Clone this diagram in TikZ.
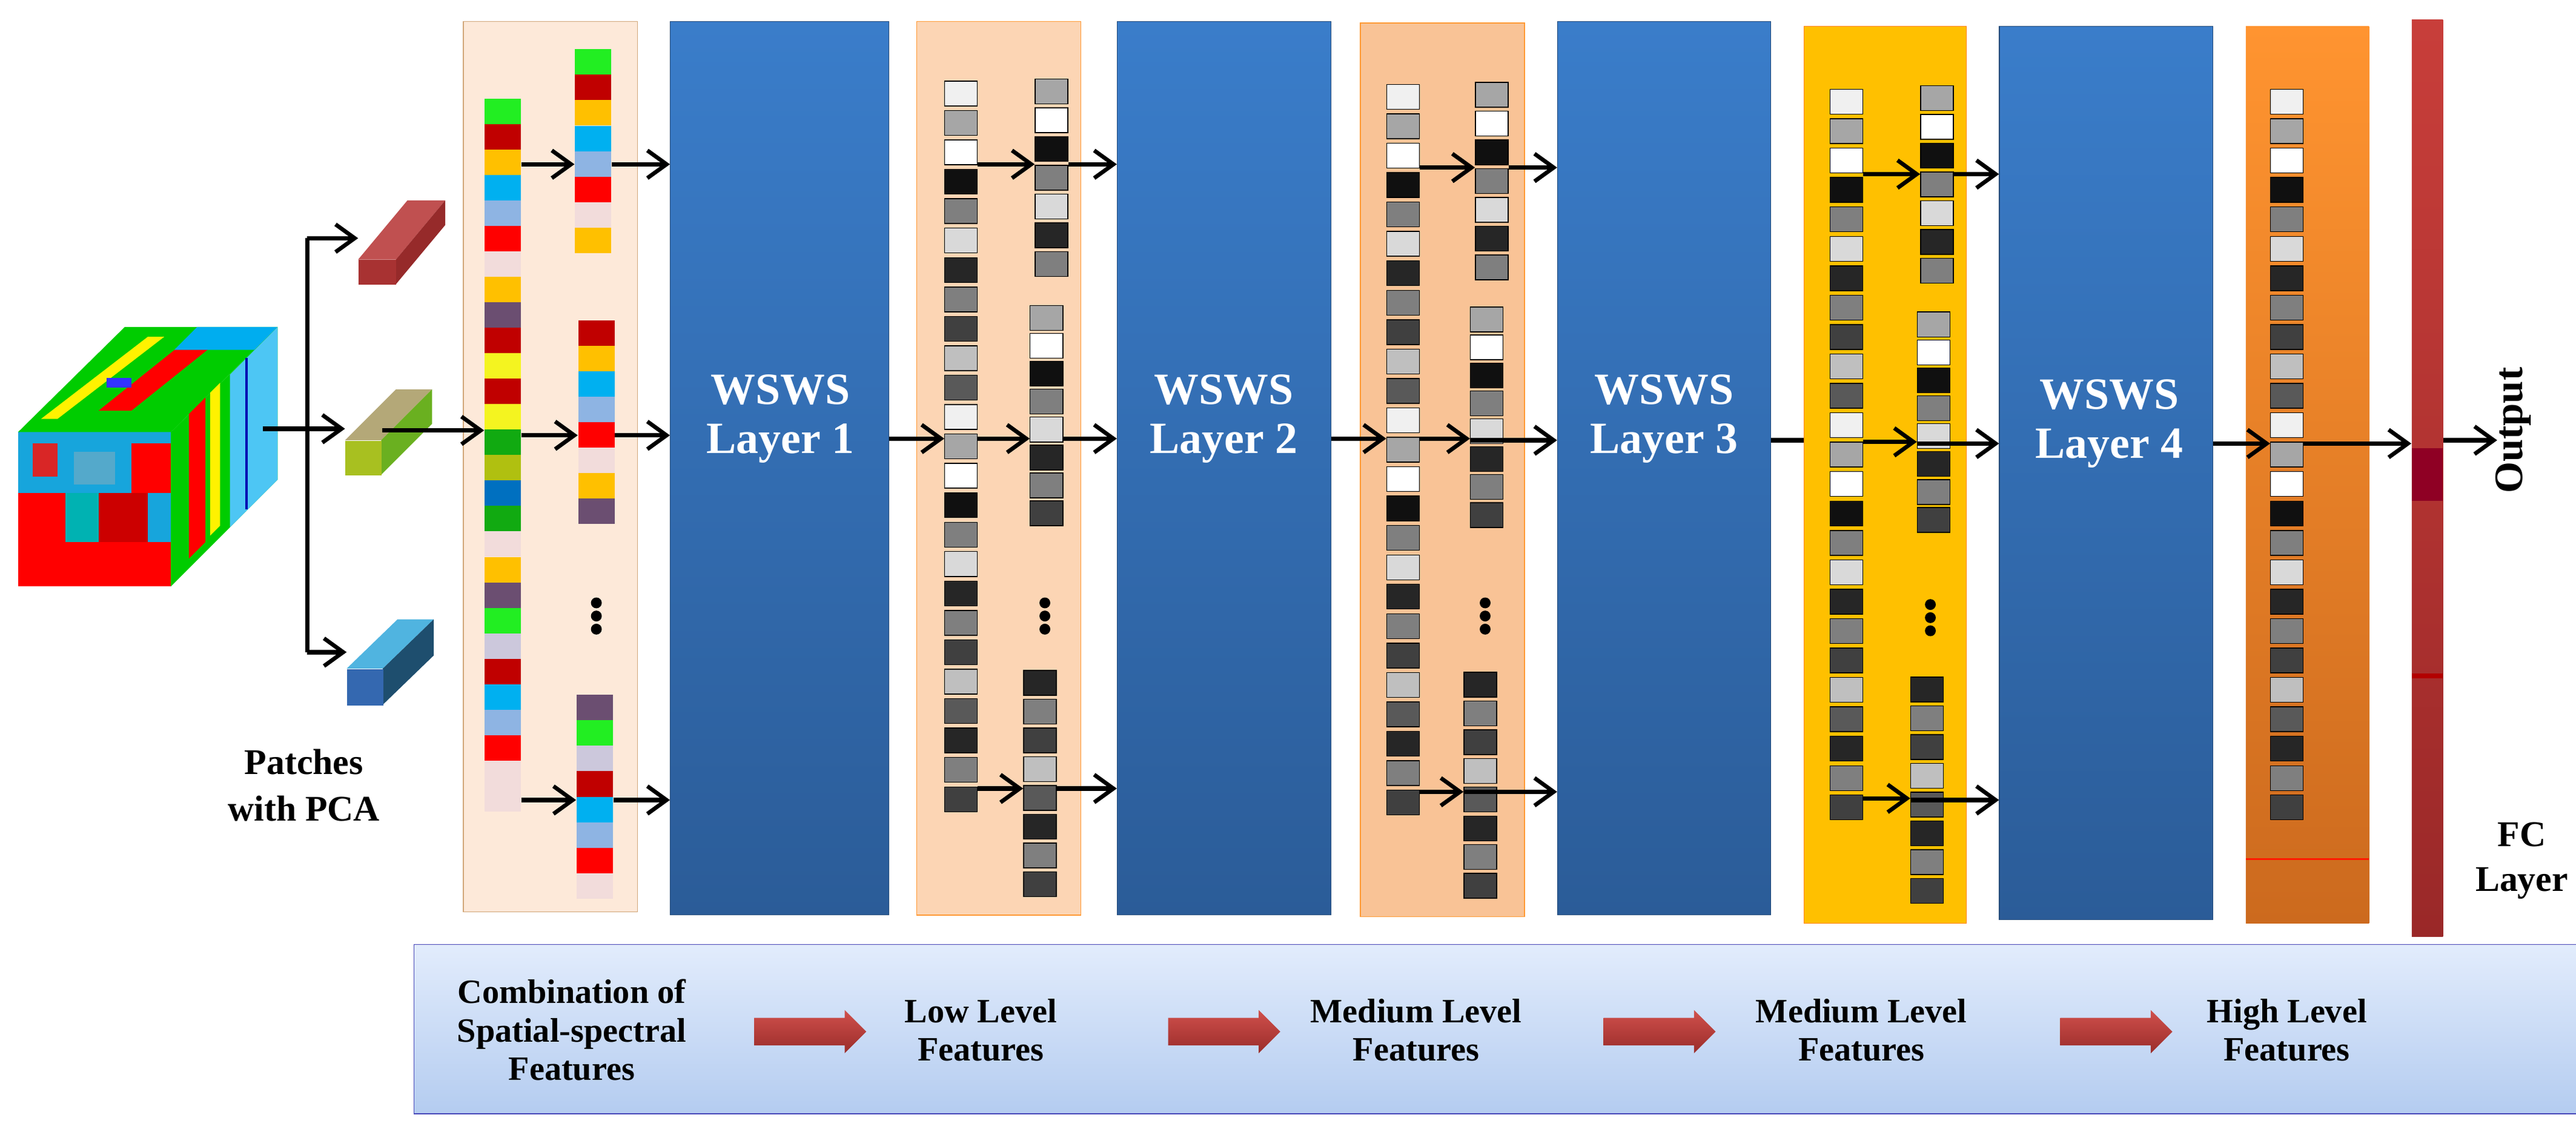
\documentclass[tikz,border=0pt]{standalone}
\usepackage{fontspec}
\setmainfont{Liberation Serif}
\usetikzlibrary{arrows.meta,shapes.arrows,fit}
\definecolor{ga}{HTML}{F0F0F0}\definecolor{gb}{HTML}{A6A6A6}\definecolor{gc}{HTML}{FFFFFF}
\definecolor{gd}{HTML}{101010}\definecolor{ge}{HTML}{7F7F7F}\definecolor{gf}{HTML}{D9D9D9}
\definecolor{gg}{HTML}{262626}\definecolor{gh}{HTML}{404040}\definecolor{gi}{HTML}{BFBFBF}
\definecolor{gj}{HTML}{595959}
\definecolor{cg}{HTML}{22EE22}\definecolor{cr}{HTML}{C00000}\definecolor{co}{HTML}{FFC000}
\definecolor{cc}{HTML}{00B0F0}\definecolor{cl}{HTML}{8EB4E3}\definecolor{cR}{HTML}{FF0000}
\definecolor{cp}{HTML}{F2DCDB}\definecolor{cv}{HTML}{6B4E71}\definecolor{cy}{HTML}{F4F420}
\definecolor{cG}{HTML}{11AA11}\definecolor{cO}{HTML}{B0C010}\definecolor{cb}{HTML}{0070C0}
\definecolor{cw}{HTML}{CCC8DC}
\definecolor{lt}{HTML}{3A7DCA}\definecolor{lb}{HTML}{2B5C98}
\definecolor{p1}{HTML}{FDE9D9}\definecolor{p2}{HTML}{FCD5B4}\definecolor{p3}{HTML}{F9C396}
\definecolor{p5t}{HTML}{FF9430}\definecolor{p5b}{HTML}{CC6A1E}
\definecolor{fct}{HTML}{C83E3A}\definecolor{fcb}{HTML}{9A2828}
\definecolor{bxt}{HTML}{E2ECFC}\definecolor{bxb}{HTML}{B4CCF0}
\definecolor{rat}{HTML}{D0504C}\definecolor{rab}{HTML}{9A2C2A}
\definecolor{prf}{HTML}{A83232}\definecolor{prt}{HTML}{C05050}\definecolor{prs}{HTML}{962A2A}
\definecolor{pgf}{HTML}{A8C020}\definecolor{pgt}{HTML}{B4A878}\definecolor{pgs}{HTML}{6AB020}
\definecolor{pbf}{HTML}{3468B0}\definecolor{pbt}{HTML}{50B4E0}\definecolor{pbs}{HTML}{1E4E6E}
\tikzset{
 x=0.02712cm,y=-0.02712cm,
 cell/.style={draw=black,line width=0.4pt,minimum width=0.54cm,minimum height=0.41cm,inner sep=0},
 ccell/.style={minimum width=0.6cm,minimum height=0.42cm,inner sep=0},
 arr/.style={line width=2.1pt,-{Straight Barb[length=9pt,width=13pt,line width=1.9pt]}},
 ln/.style={line width=2.1pt},
 layer/.style={inner sep=0,draw=lb!80!black,line width=0.3pt,top color=lt,bottom color=lb},
 ltext/.style={text=white,font=\bfseries\fontsize{21}{23}\selectfont,align=center},
 btext/.style={font=\bfseries\fontsize{16}{18}\selectfont,align=center},
 redarr/.style={single arrow,single arrow head extend=0.13cm,minimum height=1.85cm,inner sep=0.22cm,top color=rat,bottom color=rab,draw=none},
}
\newcommand\gcol[5]{\foreach \c [count=\i] in #5{\node[cell,fill=\c] (#1\i) at (#2,{#3+(\i-0.5)*#4}) {};}}
\newcommand\ccol[5]{\foreach \c [count=\i] in {#5}{\node[ccell,fill=\c] (#1\i) at (#2,{#3+(\i-0.5)*#4}) {};}}
\newcommand\vdotsat[2]{\foreach \d in {-8,0,8}{\fill (#1,#2+\d) circle (3.3);}}
\begin{document}
\begin{tikzpicture}
\useasboundingbox (0,0) rectangle (1568,692.4);
% cube
\begin{scope}
\fill[cyan!80!teal] (11,263) rectangle (104,357);
\fill[red] (11,300) rectangle (40,357);\fill[red] (40,330) rectangle (104,357);
\fill[red!80!black] (60,300) rectangle (90,330);\fill[red] (80,270) rectangle (104,300);
\fill[teal!60!cyan] (40,300) rectangle (60,330);\fill[red!70!gray] (20,270) rectangle (35,290);
\fill[cyan!60!gray] (45,275) rectangle (70,295);
\fill[green!80!black] (11,263) -- (76,199) -- (169,199) -- (104,263) -- cycle;
\fill[yellow] (25,255) -- (90,205) -- (100,205) -- (35,255) -- cycle;
\fill[red] (60,250) -- (110,210) -- (130,210) -- (80,250) -- cycle;
\fill[cyan] (120,199) -- (169,199) -- (155,213) -- (106,213) -- cycle;
\fill[blue!80] (65,230) rectangle (80,236);
\fill[green!80!black] (104,263) -- (169,199) -- (169,292) -- (104,357) -- cycle;
\fill[cyan!70] (140,228) -- (169,199) -- (169,292) -- (140,321) -- cycle;
\fill[red] (115,252) -- (125,242) -- (125,330) -- (115,340) -- cycle;
\fill[yellow] (128,239) -- (134,233) -- (134,320) -- (128,326) -- cycle;
\draw[blue!70!black,line width=1pt] (150,218) -- (150,310);
\end{scope}
\coordinate (cubeR) at (160,261);
% patches
\fill[prt] (218,158) -- (248,122) -- (271,122) -- (241,158) -- cycle;
\fill[prs] (241,158) -- (271,122) -- (271,137) -- (241,173) -- cycle;
\node[fill=prf,inner sep=0,minimum width=0.62cm,minimum height=0.41cm,anchor=north west] (pr) at (218,158) {};
\fill[pgt] (210,268) -- (241,237) -- (263,237) -- (232,268) -- cycle;
\fill[pgs] (232,268) -- (263,237) -- (263,258) -- (232,289) -- cycle;
\node[fill=pgf,inner sep=0,minimum width=0.6cm,minimum height=0.57cm,anchor=north west] (pg) at (210,268) {};
\fill[pbt] (211,407) -- (242,377) -- (264,377) -- (233,407) -- cycle;
\fill[pbs] (233,407) -- (264,377) -- (264,399) -- (233,429) -- cycle;
\node[fill=pbf,inner sep=0,minimum width=0.6cm,minimum height=0.6cm,anchor=north west] (pb) at (211,407) {};
\coordinate (brT) at (187,145);\coordinate (brB) at (187,397);\coordinate (brM) at (187,261);
\draw[ln] (brT) -- (brB);
\draw[ln] (cubeR) -- (brM);
\draw[arr] (brT) -- (pr.west |- brT);
\draw[arr] (brM) -- (pg.west |- brM);
\draw[arr] (brB) -- (pb.west |- brB);
\node[btext,font=\bfseries\fontsize{17}{22}\selectfont] (ptxt) at (185,478) {Patches\\with PCA};
% panels
\node[fit={(282,13)(388,555)},inner sep=0,fill=p1,draw=brown!70] (P1) {};
\node[fit={(558,13)(658,557)},inner sep=0,fill=p2,draw=orange!80] (P2) {};
\node[fit={(828,14)(928,558)},inner sep=0,fill=p3,draw=orange!80] (P3) {};
\node[fit={(1098,16)(1197,562)},inner sep=0,fill=co,draw=orange] (P4) {};
\node[fit={(1367,16)(1442,562)},inner sep=0,top color=p5t,bottom color=p5b] (P5) {};
\draw[red!80!orange,line width=1pt] (1367,523) -- (1442,523);
\node[fit={(1468,12)(1487,570)},inner sep=0,top color=fct,bottom color=fcb] (FC) {};
\fill[red!70!black] (1468,410) rectangle (1487,413);
\fill[violet!40!red!70!black] (1468,273) rectangle (1487,305);
% layers
\node[fit={(408,13)(541,557)},layer] (L1) {};
\node[fit={(680,13)(810,557)},layer] (L2) {};
\node[fit={(948,13)(1078,557)},layer] (L3) {};
\node[fit={(1217,16)(1347,560)},layer] (L4) {};
\node[ltext] at (475,255) {WSWS\\Layer 1};
\node[ltext] at (745,255) {WSWS\\Layer 2};
\node[ltext] at (1013,255) {WSWS\\Layer 3};
\node[ltext] at (1284,258) {WSWS\\Layer 4};
% panel 1 cells
\ccol{a}{306}{60}{15.5}{cg,cr,co,cc,cl,cR,cp,co,cv,cr,cy,cr,cy,cG,cO,cb,cG,cp,co,cv,cg,cw,cr,cc,cl,cR,cp,cp}
\ccol{at}{361}{30}{15.5}{cg,cr,co,cc,cl,cR,cp,co}
\ccol{am}{363}{195}{15.5}{cr,co,cc,cl,cR,cp,co,cv}
\ccol{ab}{362}{423}{15.5}{cv,cg,cw,cr,cc,cl,cR,cp}
\vdotsat{363}{375}
% gray cells
\def\gl{ga,gb,gc,gd,ge,gf,gg,ge,gh,gi,gj,ga,gb,gc,gd,ge,gf,gg,ge,gh,gi,gj,gg,ge,gh}
\def\gt{gb,gc,gd,ge,gf,gg,ge}
\def\gm{gb,gc,gd,ge,gf,gg,ge,gh}
\def\gbb{gg,ge,gh,gi,gj,gg,ge,gh}
\gcol{b}{585}{48}{17.9}{\gl}
\gcol{bt}{640}{47}{17.5}{\gt}
\gcol{bm}{637}{185}{17}{\gm}
\gcol{bb}{633}{407}{17.5}{\gbb}
\vdotsat{636}{375}
\gcol{c}{854}{50}{17.9}{\gl}
\gcol{ct}{908}{49}{17.5}{\gt}
\gcol{cm}{905}{186}{17}{\gm}
\gcol{cb}{901}{408}{17.5}{\gbb}
\vdotsat{904}{375}
\gcol{d}{1124}{53}{17.9}{\gl}
\gcol{dt}{1179}{51}{17.5}{\gt}
\gcol{dm}{1177}{189}{17}{\gm}
\gcol{db}{1173}{411}{17.5}{\gbb}
\vdotsat{1175}{376}
\gcol{e}{1392}{53}{17.9}{\gl}
% arrows panel1
\draw[arr] (pg.east |- 0,262) -- (a1.west |- 0,262);
\draw[arr] (a1.east |- 0,100) -- (at1.west |- 0,100);
\draw[arr] (at1.east |- 0,100) -- (L1.west |- 0,100);
\draw[arr] (a1.east |- 0,265) -- (am1.west |- 0,265);
\draw[arr] (am1.east |- 0,265) -- (L1.west |- 0,265);
\draw[arr] (a1.east |- 0,487) -- (ab1.west |- 0,487);
\draw[arr] (ab1.east |- 0,487) -- (L1.west |- 0,487);
% panel2
\draw[arr] (L1.east |- 0,267) -- (b1.west |- 0,267);
\draw[arr] (b1.east |- 0,100) -- (bt1.west |- 0,100);
\draw[arr] (bt1.east |- 0,100) -- (L2.west |- 0,100);
\draw[arr] (b1.east |- 0,267) -- (bm1.west |- 0,267);
\draw[arr] (bm1.east |- 0,267) -- (L2.west |- 0,267);
\draw[arr] (b1.east |- 0,480) -- (bb1.west |- 0,480);
\draw[arr] (bb1.east |- 0,480) -- (L2.west |- 0,480);
% panel3
\draw[arr] (L2.east |- 0,267) -- (c1.west |- 0,267);
\draw[arr] (c1.east |- 0,102) -- (ct1.west |- 0,102);
\draw[arr] (ct1.east |- 0,102) -- (L3.west |- 0,102);
\draw[arr] (c1.east |- 0,267) -- (cm1.west |- 0,267);
\draw[arr] (cm1.west |- 0,268) -- (L3.west |- 0,268);
\draw[arr] (c1.east |- 0,482) -- (cb1.west |- 0,482);
\draw[arr] (cb1.west |- 0,482) -- (L3.west |- 0,482);
% panel4
\draw[ln] (L3.east |- 0,268) -- (P4.west |- 0,268);
\draw[arr] (d1.east |- 0,106) -- (dt1.west |- 0,106);
\draw[arr] (dt1.east |- 0,106) -- (L4.west |- 0,106);
\draw[arr] (d1.east |- 0,269) -- (dm1.west |- 0,269);
\draw[arr] (dm1.west |- 0,270) -- (L4.west |- 0,270);
\draw[arr] (d1.east |- 0,486) -- (db1.west |- 0,486);
\draw[arr] (db1.west |- 0,487) -- (L4.west |- 0,487);
% panel5
\draw[arr] (L4.east |- 0,270) -- (e1.west |- 0,270);
\draw[arr] (e1.east |- 0,270) -- (FC.west |- 0,270);
\coordinate (outE) at (1520,268);
\draw[arr] (FC.east |- outE) -- (outE);
\node[rotate=90,font=\bfseries\fontsize{19}{21}\selectfont] (out) at (1530,262) {Output};
\node[btext,font=\bfseries\fontsize{17}{21}\selectfont] (fct) at (1535,524) {FC\\Layer};
% bottom box
\node[fit={(252,575)(1578,678)},inner sep=0,top color=bxt,bottom color=bxb,draw=blue!45!gray] (B) {};
\node[btext] (t1) at (348,627) {Combination of\\Spatial-spectral\\Features};
\node[btext] (t2) at (597,627) {Low Level\\Features};
\node[btext] (t3) at (862,627) {Medium Level\\Features};
\node[btext] (t4) at (1133,627) {Medium Level\\Features};
\node[btext] (t5) at (1392,627) {High Level\\Features};
\node[redarr] (r1) at (489,628) {};
\node[redarr] (r2) at (741,628) {};
\node[redarr] (r3) at (1006,628) {};
\node[redarr] (r4) at (1284,628) {};
\end{tikzpicture}
\end{document}
